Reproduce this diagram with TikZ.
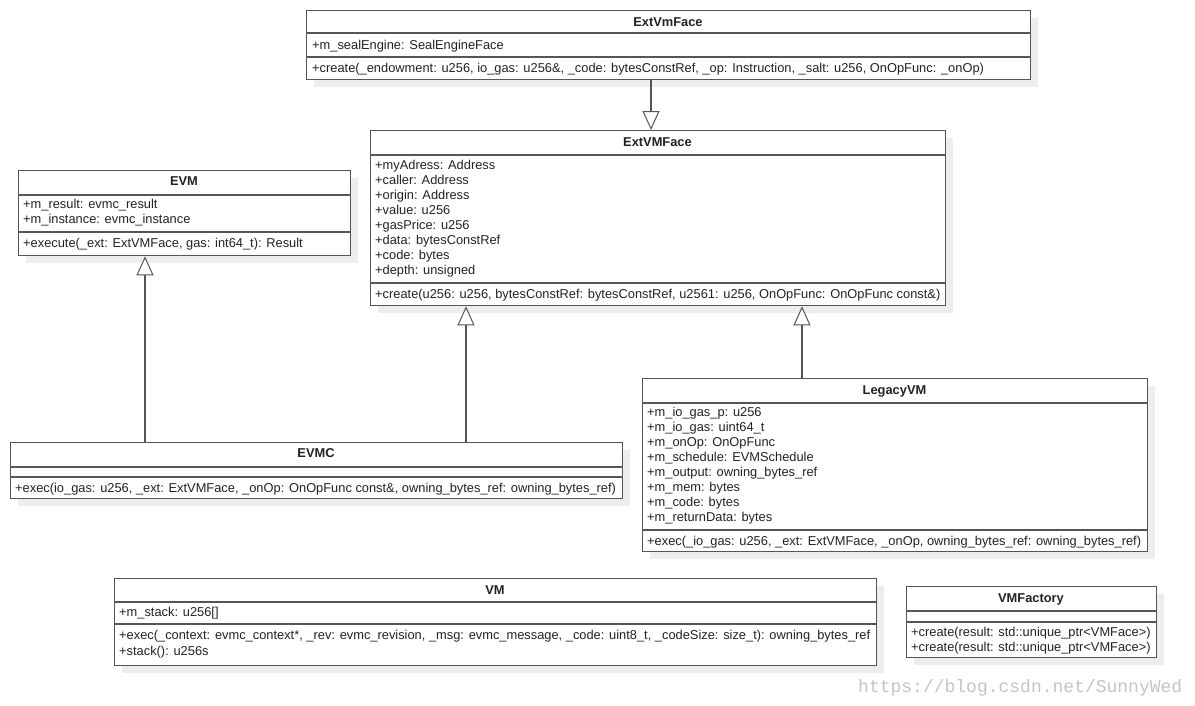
\documentclass[tikz,border=0pt]{standalone}
\usepackage{fontspec}
\setmainfont{Liberation Sans}
\newfontfamily\wmfont{Liberation Mono}
\usetikzlibrary{arrows.meta,shadows}
\definecolor{boxline}{HTML}{555555}
\definecolor{txtc}{HTML}{222222}
\definecolor{wmc}{HTML}{C4C4C4}
\tikzset{
  umlbox/.style={draw=boxline, line width=1.3pt, fill=white, anchor=north west, inner sep=0pt,
    drop shadow={shadow xshift=7pt, shadow yshift=-7pt, fill=black!7, opacity=1}},
  sepline/.style={draw=boxline, line width=1.3pt},
  ln/.style={anchor=base west, inner sep=0pt, text=txtc, font=\fontsize{12.85}{15}\selectfont},
  ttl/.style={anchor=base, inner sep=0pt, text=txtc, font=\fontsize{12.85}{15}\selectfont\bfseries},
  inh/.style={draw=boxline, line width=1.1pt, -{Triangle[open, length=19pt, width=17pt, fill=white, line width=1pt]}}
}
\begin{document}
\begin{tikzpicture}[x=1pt,y=-1pt]
\useasboundingbox (0,0) rectangle (1195,705);
% ExtVmFace (top)
\node[umlbox, minimum width=724pt, minimum height=69pt] (top) at (306,10) {};
\draw[sepline] (top.west |- 0,33) -- (top.east |- 0,33);
\draw[sepline] (top.west |- 0,57) -- (top.east |- 0,57);
\node[ttl] (topT) at (668,26.5) {ExtVmFace};
\node[ln] (topA1) at (312,49.5) {+m\_sealEngine: SealEngineFace};
\node[ln] (topO1) at (312,72.5) {+create(\_endowment: u256, io\_gas: u256\&, \_code: bytesConstRef, \_op: Instruction, \_salt: u256, OnOpFunc: \_onOp)};
% ExtVMFace
\node[umlbox, minimum width=575pt, minimum height=175pt] (ext) at (370,130) {};
\draw[sepline] (ext.west |- 0,155) -- (ext.east |- 0,155);
\draw[sepline] (ext.west |- 0,283) -- (ext.east |- 0,283);
\node[ttl] (extT) at (657.5,146.5) {ExtVMFace};
\node[ln] (extA1) at (375,169.5) {+myAdress: Address};
\node[ln] (extA2) at (375,184.5) {+caller: Address};
\node[ln] (extA3) at (375,199.5) {+origin: Address};
\node[ln] (extA4) at (375,214.5) {+value: u256};
\node[ln] (extA5) at (375,229.5) {+gasPrice: u256};
\node[ln] (extA6) at (375,244.5) {+data: bytesConstRef};
\node[ln] (extA7) at (375,259.5) {+code: bytes};
\node[ln] (extA8) at (375,274.5) {+depth: unsigned};
\node[ln] (extO1) at (375,298.5) {+create(u256: u256, bytesConstRef: bytesConstRef, u2561: u256, OnOpFunc: OnOpFunc const\&)};
% EVM
\node[umlbox, minimum width=332pt, minimum height=85pt] (evm) at (18,170) {};
\draw[sepline] (evm.west |- 0,195) -- (evm.east |- 0,195);
\draw[sepline] (evm.west |- 0,232) -- (evm.east |- 0,232);
\node[ttl] (evmT) at (184,185.5) {EVM};
\node[ln] (evmA1) at (23,208.5) {+m\_result: evmc\_result};
\node[ln] (evmA2) at (23,223.5) {+m\_instance: evmc\_instance};
\node[ln] (evmO1) at (23,247.5) {+execute(\_ext: ExtVMFace, gas: int64\_t): Result};
% EVMC
\node[umlbox, minimum width=612pt, minimum height=56pt] (evmc) at (10,442) {};
\draw[sepline] (evmc.west |- 0,467) -- (evmc.east |- 0,467);
\draw[sepline] (evmc.west |- 0,477) -- (evmc.east |- 0,477);
\node[ttl] (evmcT) at (316,457.5) {EVMC};
\node[ln] (evmcO1) at (15,492.5) {+exec(io\_gas: u256, \_ext: ExtVMFace, \_onOp: OnOpFunc const\&, owning\_bytes\_ref: owning\_bytes\_ref)};
% LegacyVM
\node[umlbox, minimum width=505pt, minimum height=173pt] (leg) at (642,378) {};
\draw[sepline] (leg.west |- 0,403) -- (leg.east |- 0,403);
\draw[sepline] (leg.west |- 0,530) -- (leg.east |- 0,530);
\node[ttl] (legT) at (894.5,394.5) {LegacyVM};
\node[ln] (legA1) at (647,416.5) {+m\_io\_gas\_p: u256};
\node[ln] (legA2) at (647,431.5) {+m\_io\_gas: uint64\_t};
\node[ln] (legA3) at (647,446.5) {+m\_onOp: OnOpFunc};
\node[ln] (legA4) at (647,461.5) {+m\_schedule: EVMSchedule};
\node[ln] (legA5) at (647,476.5) {+m\_output: owning\_bytes\_ref};
\node[ln] (legA6) at (647,491.5) {+m\_mem: bytes};
\node[ln] (legA7) at (647,506.5) {+m\_code: bytes};
\node[ln] (legA8) at (647,521.5) {+m\_returnData: bytes};
\node[ln] (legO1) at (647,545.5) {+exec(\_io\_gas: u256, \_ext: ExtVMFace, \_onOp, owning\_bytes\_ref: owning\_bytes\_ref)};
% VM
\node[umlbox, minimum width=762pt, minimum height=87pt] (vm) at (114,578) {};
\draw[sepline] (vm.west |- 0,602) -- (vm.east |- 0,602);
\draw[sepline] (vm.west |- 0,624) -- (vm.east |- 0,624);
\node[ttl] (vmT) at (495,594.5) {VM};
\node[ln] (vmA1) at (119,616.5) {+m\_stack: u256[]};
\node[ln] (vmO1) at (119,639.5) {+exec(\_context: evmc\_context*, \_rev: evmc\_revision, \_msg: evmc\_message, \_code: uint8\_t, \_codeSize: size\_t): owning\_bytes\_ref};
\node[ln] (vmO2) at (119,655.5) {+stack(): u256s};
% VMFactory
\node[umlbox, minimum width=250pt, minimum height=71pt] (fac) at (906,586) {};
\draw[sepline] (fac.west |- 0,611) -- (fac.east |- 0,611);
\draw[sepline] (fac.west |- 0,622) -- (fac.east |- 0,622);
\node[ttl] (facT) at (1031,602.5) {VMFactory};
\node[ln] (facO1) at (911,636.5) {+create(result: std::unique\_ptr<VMFace>)};
\node[ln] (facO2) at (911,651.5) {+create(result: std::unique\_ptr<VMFace>)};
% inheritance
\draw[inh] (top.south -| 651,0) -- (ext.north -| 651,0);
\draw[inh] (evmc.north -| 145,0) -- (evm.south -| 145,0);
\draw[inh] (evmc.north -| 466,0) -- (ext.south -| 466,0);
\draw[inh] (leg.north -| 802,0) -- (ext.south -| 802,0);
% watermark
\node[anchor=base west, inner sep=0pt, text=wmc, font=\wmfont\fontsize{18}{18}\selectfont] (wm) at (858,692) {https://blog.csdn.net/SunnyWed};
\end{tikzpicture}
\end{document}
